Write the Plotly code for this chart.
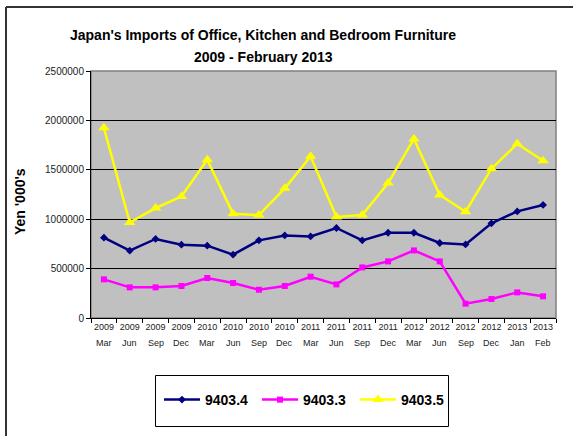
import plotly.graph_objects as go

years = ["2009", "2009", "2009", "2009", "2010", "2010", "2010", "2010", "2011", "2011",
         "2011", "2011", "2012", "2012", "2012", "2012", "2013", "2013"]
months = ["Mar", "Jun", "Sep", "Dec", "Mar", "Jun", "Sep", "Dec", "Mar", "Jun",
          "Sep", "Dec", "Mar", "Jun", "Sep", "Dec", "Jan", "Feb"]
categories = [f"{y} {m}" for y, m in zip(years, months)]

s_9403_4 = [813000, 681000, 800000, 742000, 732000, 641000, 786000, 836000, 826000, 911000,
            786000, 863000, 863000, 759000, 745000, 958000, 1079000, 1144000]
s_9403_3 = [391000, 310000, 310000, 324000, 405000, 354000, 286000, 324000, 418000, 340000,
            512000, 573000, 684000, 573000, 145000, 192000, 259000, 219000]
s_9403_5 = [1925000, 967000, 1113000, 1231000, 1602000, 1056000, 1042000, 1312000, 1636000, 1022000,
            1042000, 1366000, 1812000, 1245000, 1076000, 1511000, 1764000, 1592000]

FONT = "Arial, Liberation Sans, sans-serif"

fig = go.Figure()
fig.add_trace(go.Scatter(x=categories, y=s_9403_4, name="9403.4", mode="lines+markers",
                         line=dict(color="#000080", width=2.5),
                         marker=dict(symbol="diamond", size=6, color="#000080")))
fig.add_trace(go.Scatter(x=categories, y=s_9403_3, name="9403.3", mode="lines+markers",
                         line=dict(color="#FF00FF", width=2.5),
                         marker=dict(symbol="square", size=6, color="#FF00FF")))
fig.add_trace(go.Scatter(x=categories, y=s_9403_5, name="9403.5", mode="lines+markers",
                         line=dict(color="#FFFF00", width=2.5),
                         marker=dict(symbol="triangle-up", size=10, color="#FFFF00")))

L, R, T, B = 91, 17, 71, 118
W, H = 573, 436
pw, ph = W - L - R, H - T - B

def px_x(px):
    return (px - L) / pw

def px_y(py):
    return (H - B - py) / ph

annotations = [
    dict(text="Japan's Imports of Office, Kitchen and Bedroom Furniture",
         xref="paper", yref="paper", x=px_x(263), y=px_y(35), xanchor="center", yanchor="middle",
         showarrow=False, font=dict(family=FONT, size=14, color="black", weight="bold")),
    dict(text="2009 - February 2013",
         xref="paper", yref="paper", x=px_x(263), y=px_y(57), xanchor="center", yanchor="middle",
         showarrow=False, font=dict(family=FONT, size=14, color="black", weight="bold")),
    dict(text="Yen '000's", textangle=-90,
         xref="paper", yref="paper", x=px_x(20), y=px_y(202), xanchor="center", yanchor="middle",
         showarrow=False, font=dict(family=FONT, size=14, color="black", weight="bold")),
]
for c, m in zip(categories, months):
    annotations.append(dict(text=m, xref="x", yref="paper", x=c, y=px_y(343),
                            xanchor="center", yanchor="middle", showarrow=False,
                            font=dict(family=FONT, size=9, color="#222222")))

fig.update_layout(
    width=W, height=H,
    margin=dict(l=L, r=R, t=T, b=B),
    paper_bgcolor="white",
    plot_bgcolor="#C0C0C0",
    font=dict(family=FONT, color="black"),
    showlegend=True,
    legend=dict(orientation="h", x=px_x(159), y=px_y(400), xanchor="left", yanchor="middle",
                borderwidth=0, bgcolor="rgba(0,0,0,0)",
                font=dict(family=FONT, size=14, color="black", weight="bold"),
                itemwidth=36,
                entrywidth=47, entrywidthmode="pixels",
                traceorder="normal"),
    xaxis=dict(
        type="category", range=[-0.5, 17.5],
        tickmode="array", tickvals=categories, ticktext=years,
        tickson="boundaries", ticks="outside", ticklen=4, tickcolor="black",
        showline=True, linecolor="black", linewidth=1,
        showgrid=False, tickangle=0,
        tickfont=dict(family=FONT, size=9, color="#222222"),
    ),
    yaxis=dict(
        range=[0, 2500000], dtick=500000, tickformat="d",
        ticks="outside", ticklen=4, tickcolor="black",
        showline=True, linecolor="black", linewidth=1,
        showgrid=True, gridcolor="black", gridwidth=1,
        zeroline=False,
        tickfont=dict(family=FONT, size=10, color="#222222"),
    ),
    annotations=annotations,
    shapes=[
        dict(type="rect", xref="paper", yref="paper", x0=0, y0=0, x1=1, y1=1,
             line=dict(color="#808080", width=1.5), layer="below"),
        dict(type="line", xref="paper", yref="paper", x0=px_x(6), y0=px_y(7), x1=px_x(6), y1=px_y(460),
             line=dict(color="#333333", width=2)),
        dict(type="line", xref="paper", yref="paper", x0=px_x(6), y0=px_y(7), x1=px_x(600), y1=px_y(7),
             line=dict(color="#333333", width=2)),
        dict(type="rect", xref="paper", yref="paper", x0=px_x(155.5), y0=px_y(375.5),
             x1=px_x(448.5), y1=px_y(426.5), line=dict(color="black", width=1), fillcolor="white",
             layer="below"),
    ],
)

fig.write_html("out.html", config={"displayModeBar": False},
               post_script="document.body.style.margin='0';")
